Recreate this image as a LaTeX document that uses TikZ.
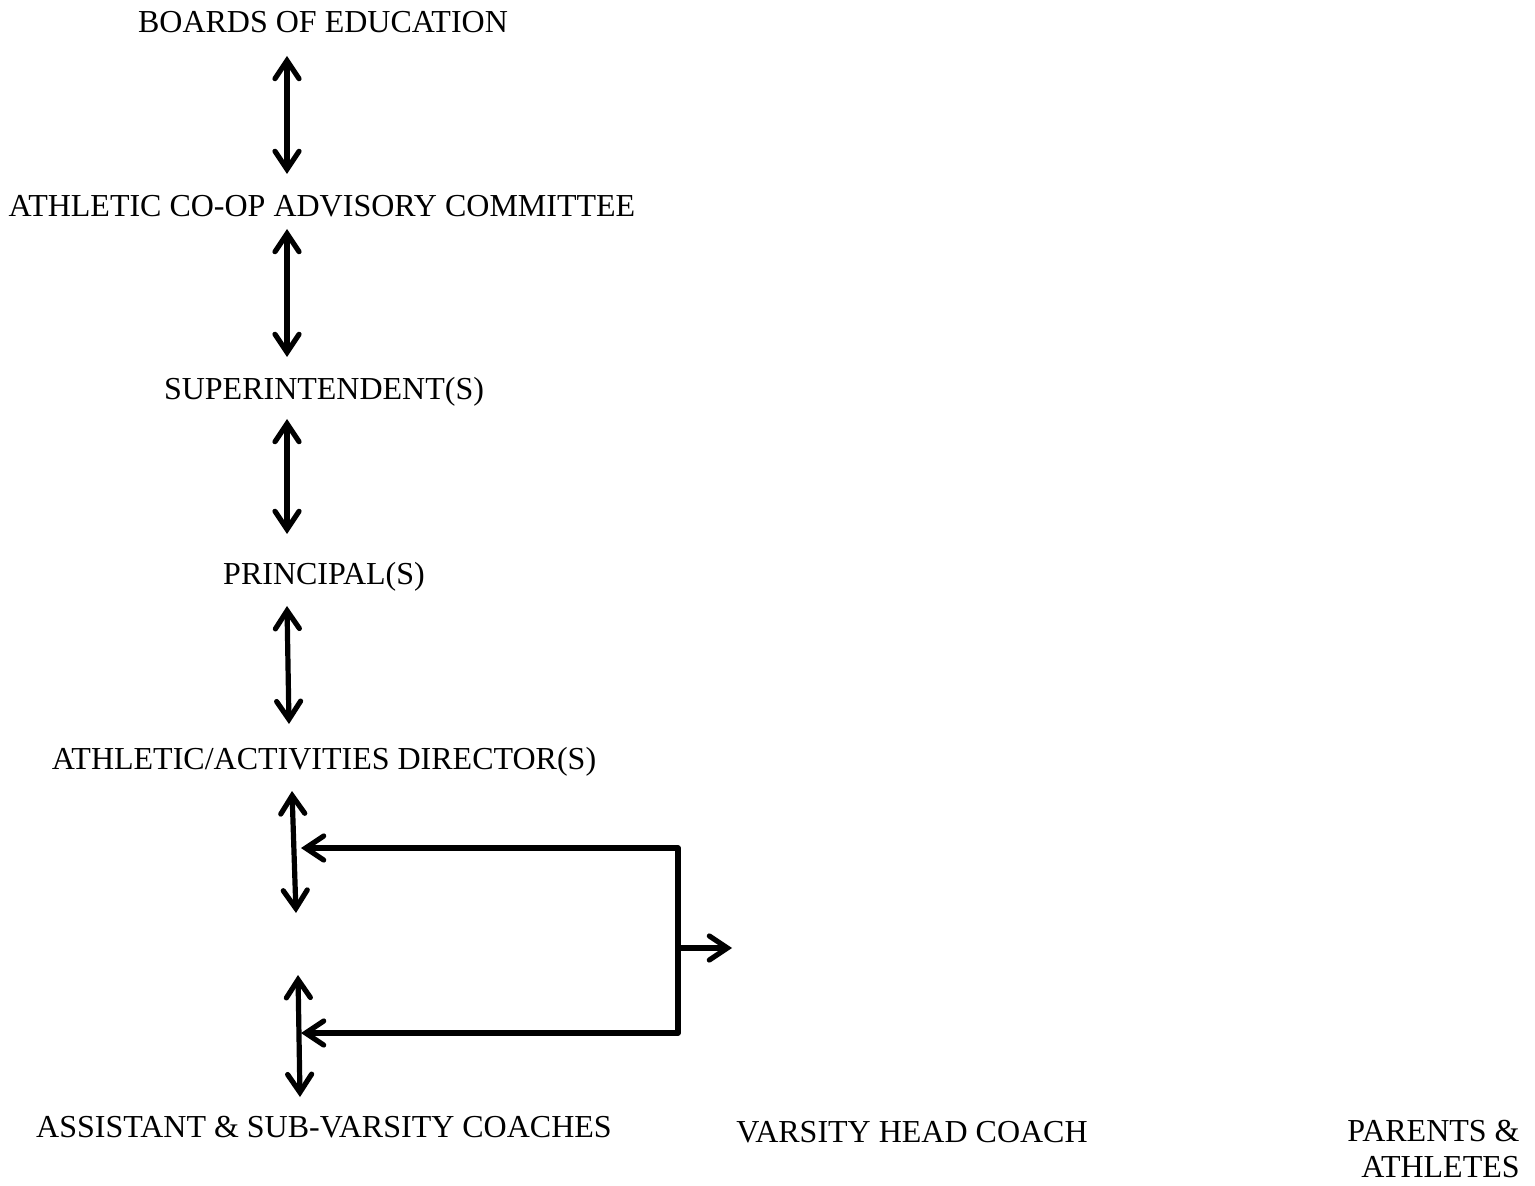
\documentclass[tikz,border=0pt]{standalone}
\usepackage{fontspec}
\setmainfont{Liberation Serif}
\usetikzlibrary{arrows.meta}
\begin{document}
\begin{tikzpicture}[x=0.5pt,y=-0.5pt,
  lbl/.style={anchor=base,inner sep=0pt,font=\fontsize{16}{18}\selectfont},
  conn/.style={line width=2.6pt,line cap=round,line join=round,
    {Straight Barb[length=9pt,width=12pt,line cap=round]}-{Straight Barb[length=9pt,width=12pt,line cap=round]}},
  oneway/.style={line width=2.6pt,line cap=round,line join=round,
    -{Straight Barb[length=9pt,width=12pt,line cap=round]}}]
\useasboundingbox (0,0) rectangle (1535,1186);
\node[lbl] (boe) at (323,33) {BOARDS OF EDUCATION};
\node[lbl] (acac) at (322,217) {ATHLETIC CO-OP ADVISORY COMMITTEE};
\node[lbl] (sup) at (324,400) {SUPERINTENDENT(S)};
\node[lbl] (pri) at (324,585) {PRINCIPAL(S)};
\node[lbl] (aad) at (324,769) {ATHLETIC/ACTIVITIES DIRECTOR(S)};
\node[lbl] (asc) at (324,1137) {ASSISTANT \& SUB-VARSITY COACHES};
\node[lbl] (vhc) at (912,1142) {VARSITY HEAD COACH};
\node[anchor=north east,inner sep=0pt,align=right,font=\fontsize{16}{18}\selectfont] (pa) at (1520,1120) {PARENTS \&\\ATHLETES};
% arrow end points
\coordinate (a1) at (287,56);   \coordinate (b1) at (287,174);
\coordinate (a2) at (287,229);  \coordinate (b2) at (287,357);
\coordinate (a3) at (287,419);  \coordinate (b3) at (287,534);
\coordinate (a4) at (287,606);  \coordinate (b4) at (289,724);
\coordinate (a5) at (292,791);  \coordinate (b5) at (296,913);
\coordinate (a6) at (298,975);  \coordinate (b6) at (300,1097);
\coordinate (t1) at (301,848);  \coordinate (c1) at (678,848);
\coordinate (c2) at (678,1033); \coordinate (t2) at (301,1033);
\coordinate (m) at (678,948);   \coordinate (r) at (732,948);
\draw[conn] (a1) -- (b1);
\draw[conn] (a2) -- (b2);
\draw[conn] (a3) -- (b3);
\draw[conn] (a4) -- (b4);
\draw[conn] (a5) -- (b5);
\draw[conn] (a6) -- (b6);
\draw[conn] (t1) -- (c1) -- (c2) -- (t2);
\draw[oneway] (m) -- (r);
\end{tikzpicture}
\end{document}
